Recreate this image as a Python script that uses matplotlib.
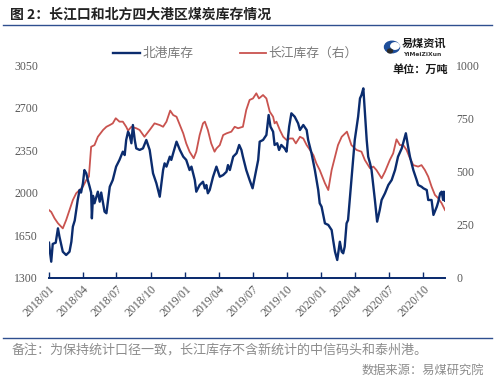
import numpy as np
import pandas as pd
import matplotlib
matplotlib.use('Agg')
import matplotlib.pyplot as plt
import matplotlib.dates as mdates
from matplotlib.lines import Line2D
from matplotlib.patches import Circle

# 北港库存 (left axis, 万吨)
north_dates = [
    '2018-01-01', '2018-01-03', '2018-01-07', '2018-01-11', '2018-01-19', '2018-01-25', '2018-01-29',
    '2018-02-07', '2018-02-16', '2018-02-25', '2018-03-02', '2018-03-06', '2018-03-11', '2018-03-19',
    '2018-03-24', '2018-03-28', '2018-04-02', '2018-04-06', '2018-04-11', '2018-04-15', '2018-04-20',
    '2018-04-24', '2018-04-26', '2018-04-29', '2018-05-03', '2018-05-12', '2018-05-17', '2018-05-21',
    '2018-05-30', '2018-06-04', '2018-06-13', '2018-06-21', '2018-06-30', '2018-07-09', '2018-07-18',
    '2018-07-23', '2018-07-27', '2018-08-01', '2018-08-05', '2018-08-10', '2018-08-14', '2018-08-19',
    '2018-08-23', '2018-09-01', '2018-09-10', '2018-09-19', '2018-09-28', '2018-10-07', '2018-10-16',
    '2018-10-25', '2018-11-03', '2018-11-07', '2018-11-12', '2018-11-21', '2018-11-25', '2018-11-30',
    '2018-12-09', '2018-12-18', '2018-12-27', '2019-01-04', '2019-01-13', '2019-01-18', '2019-01-27',
    '2019-01-31', '2019-02-09', '2019-02-18', '2019-02-23', '2019-02-27', '2019-03-03', '2019-03-08',
    '2019-03-17', '2019-03-26', '2019-04-04', '2019-04-13', '2019-04-22', '2019-04-26', '2019-05-01',
    '2019-05-10', '2019-05-19', '2019-05-26', '2019-06-01', '2019-06-05', '2019-06-14', '2019-06-23',
    '2019-07-01', '2019-07-07', '2019-07-16', '2019-07-20', '2019-07-29', '2019-08-07', '2019-08-13',
    '2019-08-18', '2019-08-25', '2019-08-29', '2019-09-05', '2019-09-10', '2019-09-16', '2019-09-25',
    '2019-09-30', '2019-10-07', '2019-10-13', '2019-10-22', '2019-10-31', '2019-11-05', '2019-11-14',
    '2019-11-23', '2019-11-27', '2019-12-06', '2019-12-15', '2019-12-24', '2019-12-28', '2020-01-02',
    '2020-01-11', '2020-01-20', '2020-01-29', '2020-02-02', '2020-02-07', '2020-02-13', '2020-02-20',
    '2020-02-25', '2020-02-29', '2020-03-04', '2020-03-09', '2020-03-13', '2020-03-22', '2020-03-31',
    '2020-04-09', '2020-04-14', '2020-04-18', '2020-04-23', '2020-04-25', '2020-05-02', '2020-05-06',
    '2020-05-11', '2020-05-15', '2020-05-20', '2020-05-24', '2020-05-30', '2020-06-06', '2020-06-11',
    '2020-06-20', '2020-06-29', '2020-07-08', '2020-07-17', '2020-07-25', '2020-08-04', '2020-08-10',
    '2020-08-15', '2020-08-21', '2020-08-26', '2020-09-04', '2020-09-13', '2020-09-17', '2020-09-26',
    '2020-10-01', '2020-10-10', '2020-10-14', '2020-10-23', '2020-10-28', '2020-11-06', '2020-11-10',
    '2020-11-15', '2020-11-19', '2020-11-23', '2020-11-25', '2020-11-28',
]
north_values = [
    1590, 1530, 1434, 1580, 1590, 1708, 1640,
    1516, 1489, 1516, 1598, 1722, 1772, 1941,
    2023, 2002, 2078, 2187, 2160, 2105, 2050,
    2002, 1790, 1975, 1914, 2009, 1927, 2002,
    1845, 1832, 2050, 2105, 2215, 2270, 2338,
    2310, 2434, 2502, 2475, 2407, 2557, 2434,
    2365, 2352, 2365, 2434, 2352, 2160, 2078,
    1968, 2187, 2242, 2215, 2297, 2270, 2325,
    2420, 2352, 2297, 2270, 2187, 2215, 2105,
    2009, 2064, 2091, 2036, 2064, 1996, 2023,
    2132, 2215, 2132, 2146, 2173, 2228, 2187,
    2297, 2325, 2393, 2352, 2297, 2187, 2105,
    2037, 2132, 2270, 2420, 2434, 2475, 2639,
    2543, 2502, 2393, 2407, 2352, 2393, 2365,
    2338, 2543, 2653, 2625, 2571, 2516, 2557,
    2516, 2434, 2325, 2187, 2023, 1914, 1886,
    1749, 1736, 1694, 1612, 1516, 1448, 1598,
    1516, 1503, 1557, 1749, 1776, 2105, 2434,
    2625, 2776, 2803, 2858, 2762, 2434, 2297,
    2242, 2187, 2050, 1941, 1763, 1859, 1941,
    1996, 2064, 2105, 2187, 2297, 2365, 2434,
    2489, 2380, 2297, 2187, 2105, 2064, 2050,
    2037, 2023, 1941, 1941, 1818, 1886, 1927,
    1996, 2009, 1941, 2009, 1935,
]

# 长江库存 (right axis, 万吨)
yangtze_dates = [
    '2018-01-01', '2018-01-07', '2018-01-16', '2018-01-25', '2018-02-07', '2018-02-16', '2018-02-25',
    '2018-03-06', '2018-03-15', '2018-03-24', '2018-04-02', '2018-04-11', '2018-04-18', '2018-04-24',
    '2018-05-03', '2018-05-12', '2018-05-26', '2018-06-04', '2018-06-13', '2018-06-21', '2018-06-29',
    '2018-07-09', '2018-07-18', '2018-07-27', '2018-08-01', '2018-08-10', '2018-08-23', '2018-09-01',
    '2018-09-14', '2018-09-28', '2018-10-11', '2018-10-25', '2018-11-03', '2018-11-12', '2018-11-22',
    '2018-11-30', '2018-12-09', '2018-12-18', '2018-12-27', '2019-01-04', '2019-01-13', '2019-01-24',
    '2019-01-31', '2019-02-09', '2019-02-18', '2019-02-23', '2019-03-03', '2019-03-12', '2019-03-21',
    '2019-03-26', '2019-04-04', '2019-04-13', '2019-04-22', '2019-05-05', '2019-05-14', '2019-05-23',
    '2019-06-05', '2019-06-14', '2019-06-23', '2019-07-02', '2019-07-11', '2019-07-18', '2019-07-29',
    '2019-08-07', '2019-08-16', '2019-08-25', '2019-08-29', '2019-09-03', '2019-09-12', '2019-09-21',
    '2019-09-30', '2019-10-09', '2019-10-17', '2019-10-25', '2019-11-05', '2019-11-14', '2019-11-23',
    '2019-12-02', '2019-12-11', '2019-12-19', '2019-12-28', '2020-01-11', '2020-01-20', '2020-01-29',
    '2020-02-07', '2020-02-15', '2020-02-25', '2020-03-10', '2020-03-22', '2020-04-05', '2020-04-18',
    '2020-04-27', '2020-05-11', '2020-05-20', '2020-05-28', '2020-06-11', '2020-06-20', '2020-07-03',
    '2020-07-12', '2020-07-21', '2020-07-30', '2020-08-08', '2020-08-17', '2020-08-26', '2020-09-04',
    '2020-09-17', '2020-09-26', '2020-10-05', '2020-10-14', '2020-10-23', '2020-11-01', '2020-11-10',
    '2020-11-19', '2020-11-28',
]
yangtze_values = [
    319, 310, 280, 257, 233, 272, 319,
    366, 398, 413, 429, 460, 476, 616,
    624, 663, 695, 710, 718, 726, 750,
    734, 734, 710, 692, 710, 703, 695,
    663, 695, 726, 718, 710, 734, 786,
    765, 757, 718, 679, 632, 593, 562,
    593, 671, 726, 734, 695, 632, 593,
    608, 624, 671, 679, 687, 710, 703,
    710, 789, 836, 843, 867, 843, 859,
    843, 781, 757, 726, 734, 695, 663,
    648, 655, 655, 632, 663, 655, 624,
    601, 577, 538, 507, 445, 413, 507,
    569, 624, 663, 687, 624, 601, 593,
    554, 515, 523, 507, 468, 499, 554,
    585, 651, 624, 624, 601, 562, 530,
    523, 530, 507, 476, 429, 390, 374,
    351, 319,
]

left_ticks = [1300, 1650, 2000, 2350, 2700, 3050]
right_ticks = [0, 250, 500, 750, 1000]

navy = '#0B2C6E'
red = '#C9534F'
grey = '#595959'
cjk = ['Noto Sans CJK SC', 'DejaVu Sans']
serif = 'Liberation Serif'

W, H = 498, 382
fig = plt.figure(figsize=(W / 100, H / 100), dpi=100)

def fx(x):
    return x / W

def fy(y):
    return 1 - y / H

# title and rules
fig.text(fx(10), fy(15), '图 2：长江口和北方四大港区煤炭库存情况', family=cjk,
         fontsize=10, fontweight='bold', color='#222222', va='center', ha='left')
fig.add_artist(Line2D([fx(3), fx(492)], [fy(25), fy(25)], color='#2F4F8F', lw=1.0))
fig.add_artist(Line2D([fx(3), fx(492)], [fy(338), fy(338)], color='#2F4F8F', lw=1.0))

# axes
ax = fig.add_axes([fx(49), fy(278), fx(445) - fx(49), fy(65) - fy(278)])
ax2 = ax.twinx()

nd = pd.to_datetime(north_dates)
yd = pd.to_datetime(yangtze_dates)
ax2.plot(yd, yangtze_values, color=red, lw=1.3, zorder=2)
ax.plot(nd, north_values, color=navy, lw=1.7, zorder=3)
ax.set_zorder(ax2.get_zorder() + 1)
ax.patch.set_visible(False)

ax.set_xlim(pd.Timestamp('2018-01-01'), pd.Timestamp('2020-11-28'))
ax.set_ylim(1300, 3050)
ax2.set_ylim(0, 1000)
ax.set_yticks(left_ticks)
ax2.set_yticks(right_ticks)

ax.xaxis.set_major_locator(mdates.MonthLocator(bymonth=[1, 4, 7, 10]))
ax.xaxis.set_major_formatter(mdates.DateFormatter('%Y/%m'))

for a in (ax, ax2):
    for s in ['top', 'left', 'right']:
        a.spines[s].set_visible(False)
    a.spines['bottom'].set_color(navy)
    a.spines['bottom'].set_linewidth(1.3)

ax.tick_params(axis='x', direction='in', length=4, width=1.0, color=navy, pad=4)
ax.tick_params(axis='y', length=0, pad=8)
ax2.tick_params(axis='y', length=0, pad=8)
for lab in ax.get_xticklabels():
    lab.set_rotation(45)
    lab.set_ha('right')
    lab.set_rotation_mode('anchor')
for lab in ax.get_xticklabels() + ax.get_yticklabels() + ax2.get_yticklabels():
    lab.set_family(serif)
    lab.set_fontsize(8.5)
    lab.set_color(grey)

# legend drawn by hand
fig.add_artist(Line2D([fx(113), fx(140)], [fy(53), fy(53)], color=navy, lw=1.7))
fig.text(fx(143), fy(53), '北港库存', family=cjk, fontsize=9.2, color='#7A7A7A', va='center')
fig.add_artist(Line2D([fx(240), fx(266)], [fy(53), fy(53)], color=red, lw=1.3))
fig.text(fx(268), fy(53), '长江库存（右）', family=cjk, fontsize=9.2, color='#7A7A7A', va='center')

# logo
fig.add_artist(Circle((fx(392), fy(47)), 7.5 / W, color='#1E4E9A', transform=fig.transFigure))
fig.add_artist(Circle((fx(395), fy(46)), 4.2 / W, color='white', transform=fig.transFigure))
fig.add_artist(Circle((fx(390), fy(51)), 2.5 / W, color='#2A2A2A', transform=fig.transFigure))
fig.text(fx(402), fy(43), '易煤资讯', family=cjk, fontsize=8, fontweight='bold',
         color='#1A1A1A', va='center')
fig.text(fx(403), fy(54), 'YiMeiZiXun', family='DejaVu Sans', fontsize=4.3,
         fontweight='bold', color='#333333', va='center')
fig.text(fx(448), fy(69), '单位：万吨', family=cjk, fontsize=8, fontweight='bold',
         color='#1A1A1A', va='center', ha='right')

# notes
fig.text(fx(12), fy(350), '备注：为保持统计口径一致，长江库存不含新统计的中信码头和泰州港。',
         family=cjk, fontsize=9.4, color='#8C8C8C', va='center')
fig.text(fx(484), fy(370), '数据来源：易煤研究院', family=cjk, fontsize=8.8,
         color='#8C8C8C', va='center', ha='right')

fig.savefig('out.png', dpi=100)
